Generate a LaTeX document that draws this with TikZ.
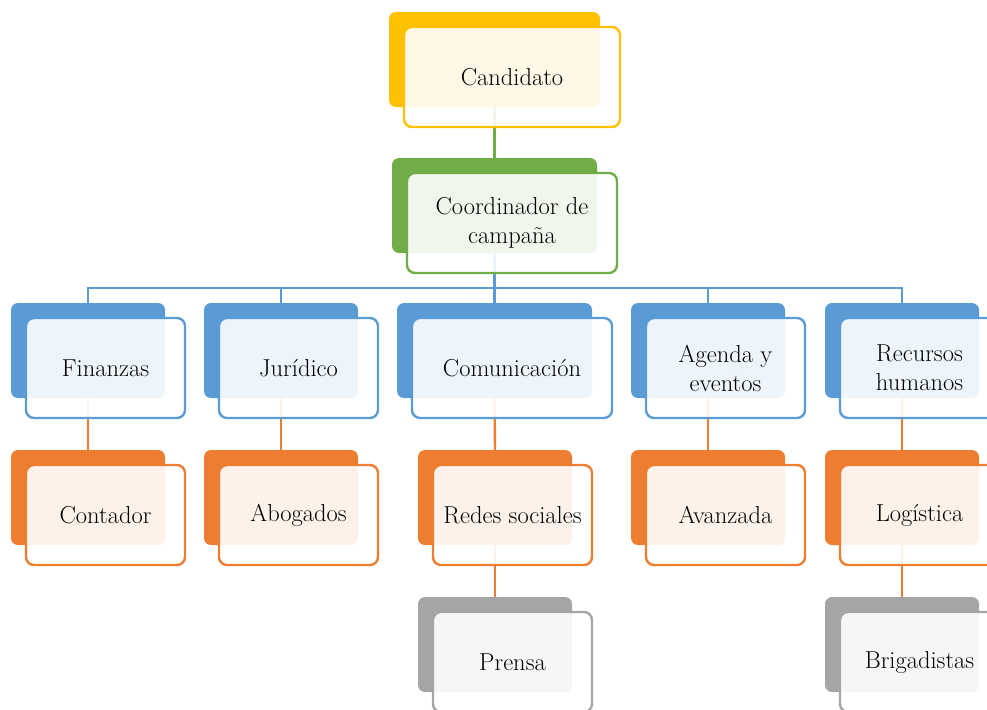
\documentclass[tikz,border=0pt]{standalone}
\usepackage{fontspec}
\usepackage{tikz}
\usetikzlibrary{backgrounds}
\definecolor{cyell}{HTML}{FFC000}
\definecolor{cgreen}{HTML}{70AD47}
\definecolor{cblue}{HTML}{5B9BD5}
\definecolor{corange}{HTML}{ED7D31}
\definecolor{cgray}{HTML}{A5A5A5}
\tikzset{
  backbox/.style={rectangle, rounded corners=7pt, minimum height=95pt, inner sep=0pt},
  frontbox/.style={rectangle, rounded corners=8pt, minimum height=100pt, line width=2.4pt,
    fill=white, fill opacity=0.9, text opacity=1, align=center, inner sep=0pt,
    font=\fontsize{24.5}{29}\selectfont},
  link/.style={line width=2.4pt}
}
\newcommand{\orgbox}[6]{%
  \node[backbox, fill=#5, minimum width=#4pt] (#1) at (#2,#3) {};
  \node[frontbox, draw=#5, minimum width=#4pt+5pt] (#1-f) at (#2+17.5,#3+17.5) {#6};
}
\begin{document}
\begin{tikzpicture}[x=1pt,y=-1pt]
\useasboundingbox (0,0) rectangle (987,709);
\orgbox{cand}{494.5}{59.5}{211}{cyell}{Candidato}
\orgbox{coord}{494.5}{205.5}{205}{cgreen}{Coordinador de\\campaña}
\orgbox{fin}{88}{350.5}{154}{cblue}{Finanzas}
\orgbox{jur}{281}{350.5}{154}{cblue}{Jurídico}
\orgbox{com}{494.5}{350.5}{195}{cblue}{Comunicación}
\orgbox{age}{708}{350.5}{154}{cblue}{Agenda y\\eventos}
\orgbox{rec}{902}{350.5}{154}{cblue}{Recursos\\humanos}
\orgbox{cont}{88}{497.5}{154}{corange}{Contador}
\orgbox{abo}{281}{497.5}{154}{corange}{Abogados}
\orgbox{redes}{495}{497.5}{154}{corange}{Redes sociales}
\orgbox{ava}{708}{497.5}{154}{corange}{Avanzada}
\orgbox{log}{902}{497.5}{154}{corange}{Logística}
\orgbox{prensa}{495}{644.5}{154}{cgray}{Prensa}
\orgbox{brig}{902}{644.5}{154}{cgray}{Brigadistas}
\begin{pgfonlayer}{background}
\draw[link, cgreen] (cand.south) -- (coord.north);
\draw[link, cblue] (coord.south) -- ++(0,35) -| (fin.north);
\draw[link, cblue] (coord.south) -- ++(0,35) -| (jur.north);
\draw[link, cblue] (coord.south) -- (com.north);
\draw[link, cblue] (coord.south) -- ++(0,35) -| (age.north);
\draw[link, cblue] (coord.south) -- ++(0,35) -| (rec.north);
\draw[link, corange] (fin.south) -- (cont.north);
\draw[link, corange] (jur.south) -- (abo.north);
\draw[link, corange] (com.south) -- (redes.north);
\draw[link, corange] (age.south) -- (ava.north);
\draw[link, corange] (rec.south) -- (log.north);
\draw[link, corange] (redes.south) -- (prensa.north);
\draw[link, corange] (log.south) -- (brig.north);
\end{pgfonlayer}
\end{tikzpicture}
\end{document}
